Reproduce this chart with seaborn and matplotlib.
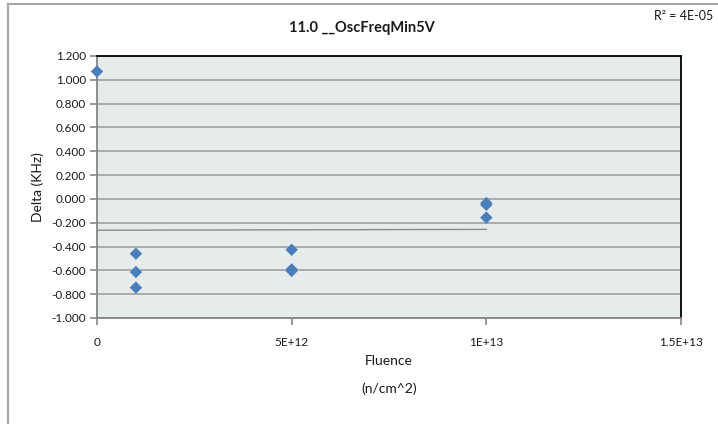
import numpy as np
import pandas as pd
import seaborn as sns
import matplotlib.pyplot as plt
from matplotlib.patches import Rectangle

# data
fluence = [0, 1e12, 1e12, 1e12, 5e12, 5e12, 5e12, 1e13, 1e13, 1e13]
delta = [1.07, -0.46, -0.614, -0.745, -0.427, -0.592, -0.605, -0.035, -0.05, -0.157]

# linear trendline as drawn in the chart
trend_x = [0, 1e13]
trend_y = [-0.263, -0.256]

x_ticks = [0, 5e12, 1e13, 1.5e13]
x_tick_labels = ['0', '5E+12', '1E+13', '1.5E+13']
y_ticks = [-1.0, -0.8, -0.6, -0.4, -0.2, 0.0, 0.2, 0.4, 0.6, 0.8, 1.0, 1.2]
y_tick_labels = ['-1.000', '-0.800', '-0.600', '-0.400', '-0.200', '0.000',
                 '0.200', '0.400', '0.600', '0.800', '1.000', '1.200']

df = pd.DataFrame({'fluence': fluence, 'delta': delta})
trend = pd.DataFrame({'fluence': trend_x, 'delta': trend_y})

sns.set_style('white')
plt.rcParams['font.family'] = ['Lato', 'DejaVu Sans']

fig = plt.figure(figsize=(7.18, 4.24), dpi=100)
ax = fig.add_axes([97 / 718, 1 - 318 / 424, 584 / 718, 262 / 424])
ax.set_facecolor('#e6ebeb')

# outer chart border
fig.patches.append(Rectangle((8 / 718, -0.1), 1.2, 1.1 - 4.5 / 424, transform=fig.transFigure,
                             fill=False, edgecolor='#a6a6a6', linewidth=1.5))

for yv in y_ticks:
    ax.axhline(yv, color='#a6a6a6', linewidth=1.3, zorder=1)

sns.lineplot(data=trend, x='fluence', y='delta', ax=ax, color='#8c8c8c', linewidth=1.0, zorder=2)
sns.scatterplot(data=df, x='fluence', y='delta', ax=ax, marker='D', s=40, color='#4a7ebb',
                edgecolor='none', zorder=3, clip_on=False)

ax.set_xlim(0, 1.5e13)
ax.set_ylim(-1.0, 1.2)
ax.set_xticks(x_ticks)
ax.set_xticklabels(x_tick_labels)
ax.set_yticks(y_ticks)
ax.set_yticklabels(y_tick_labels)
ax.tick_params(axis='both', which='both', direction='out', length=5, width=1.2, color='#868686',
               labelsize=8.5, labelcolor='#1a1a1a', left=True, bottom=True)
ax.tick_params(axis='x', pad=9)
ax.tick_params(axis='y', pad=3)

for side in ['top', 'right']:
    ax.spines[side].set_color('black')
    ax.spines[side].set_linewidth(1.3)
for side in ['left', 'bottom']:
    ax.spines[side].set_color('#868686')
    ax.spines[side].set_linewidth(1.3)

ax.set_xlabel('')
ax.set_ylabel('Delta (KHz)', fontsize=10, color='#1a1a1a', labelpad=5)

fig.text(389 / 718, 1 - 361 / 424, 'Fluence', ha='center', va='center', fontsize=10, color='#1a1a1a')
fig.text(389 / 718, 1 - 389 / 424, '(n/cm^2)', ha='center', va='center', fontsize=10, color='#1a1a1a')
fig.text(362 / 718, 1 - 28 / 424, '11.0 __OscFreqMin5V', ha='center', va='center', fontsize=10.5,
         fontweight='bold', color='#1a1a1a')
fig.text(713 / 718, 1 - 16 / 424, 'R² = 4E-05', ha='right', va='center', fontsize=9, color='#1a1a1a')

fig.savefig('out.png', dpi=100)
